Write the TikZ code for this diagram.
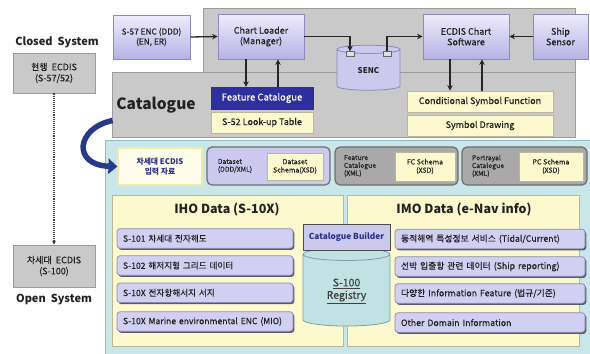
\documentclass[tikz,border=0pt]{standalone}
\usepackage{fontspec}
\setmainfont{Noto Sans CJK KR}[UprightFeatures={FakeBold=0.35}]
\usetikzlibrary{shapes.geometric,arrows.meta,shadows,calc}

\definecolor{txt}{HTML}{222222}
\definecolor{panelfill}{HTML}{C9C9C9}
\definecolor{panelline}{HTML}{9C9C9C}
\definecolor{lavtop}{HTML}{EEECFC}
\definecolor{lavbot}{HTML}{B6B2E6}
\definecolor{lavline}{HTML}{8C89BE}
\definecolor{lavflat}{HTML}{CBC9EE}
\definecolor{fcblue}{HTML}{2E2E9C}
\definecolor{paleyel}{HTML}{FCF9CF}
\definecolor{yelline}{HTML}{B9B69A}
\definecolor{bluepanel}{HTML}{C9E6E9}
\definecolor{bluepanelline}{HTML}{8FBFC4}
\definecolor{grpgray}{HTML}{A9A9A9}
\definecolor{grpline}{HTML}{6E6E6E}
\definecolor{itemfill}{HTML}{D2D0F2}
\definecolor{itemline}{HTML}{8A88B4}
\definecolor{shadowc}{HTML}{5A5A66}
\definecolor{regfill}{HTML}{C0E2E3}
\definecolor{regline}{HTML}{7E9FA1}
\definecolor{darkblue}{HTML}{2A2F8E}
\definecolor{curvblue}{HTML}{273A8A}

\begin{document}
\begin{tikzpicture}[x=1pt,y=-1pt,
  every node/.style={text=txt, align=center, inner sep=1pt},
  panel/.style={draw=panelline, fill=panelfill, line width=0.8pt},
  lavbox/.style={draw=lavline, top color=lavtop, bottom color=lavbot, line width=0.8pt,
    font=\fontsize{9}{10.5}\selectfont},
  yelbox/.style={draw=yelline, fill=paleyel, line width=0.8pt,
    font=\fontsize{9}{10.5}\selectfont},
  sysbox/.style={draw=panelline, fill=panelfill, line width=0.8pt,
    minimum width=82pt, font=\fontsize{9}{11}\selectfont},
  systxt/.style={font=\bfseries\fontsize{11}{12}\selectfont},
  grp/.style={draw=grpline, line width=1.2pt, rounded corners=5pt, minimum height=38pt},
  grptxt/.style={font=\fontsize{6.8}{7.8}\selectfont, align=left},
  subbox/.style={yelbox, font=\fontsize{7}{8.3}\selectfont},
  datapanel/.style={draw=yelline, fill=paleyel, line width=0.9pt},
  heading/.style={font=\bfseries\fontsize{12.5}{13}\selectfont},
  item/.style={draw=itemline, fill=itemfill, line width=0.7pt, rounded corners=3pt,
    drop shadow={shadow xshift=1.3pt, shadow yshift=-1.6pt, fill=shadowc, opacity=1},
    minimum height=19.5pt, inner xsep=6pt, align=left},
  ihoitem/.style={item, text width=164pt, font=\fontsize{8.6}{10}\selectfont},
  imoitem/.style={item, text width=178pt, font=\fontsize{8.8}{10}\selectfont},
  plug/.style={draw=gray!80!black, fill=gray!25, line width=0.5pt,
    minimum width=8pt, minimum height=5pt, inner sep=0pt},
  arr/.style={line width=1.3pt, draw=black!85, -{Stealth[length=5.5pt,width=5.5pt]}},
]
\useasboundingbox (0,0) rectangle (590,354);

% ---------- legacy / next-generation systems on the left ----------
\node[systxt] (closed) at (57,42) {Closed\ \ System};
\node[sysbox, minimum height=40pt] (cur) at (54,73) {현행\ \ ECDIS\\(S-57/52)};
\node[sysbox, minimum height=42pt] (nextgen) at (54,266) {차세대\ \ ECDIS\\(S-100)};
\node[systxt] (open) at (54,300) {Open\ \ System};
\draw[densely dotted, line width=1.1pt, draw=black!75, -{Stealth[length=4pt,width=4pt]}]
  (cur.south) -- (nextgen.north);

% ---------- ECDIS processing chain and catalogue ----------
\node[panel, minimum width=372pt, minimum height=64pt] (chain) at (389,40) {};
\node[panel, minimum width=463pt, minimum height=65pt] (cat) at (343.5,104.5) {};
\node[font=\bfseries\fontsize{15.5}{16}\selectfont] (cattxt) at (156,105) {Catalogue};

\node[lavbox, minimum width=77pt, minimum height=44pt, font=\fontsize{8.3}{10}\selectfont]
  (s57) at (151.5,37) {S-57 ENC (DDD)\\(EN, ER)};
\node[lavbox, minimum width=86pt, minimum height=45pt] (loader) at (261,36.5) {Chart Loader\\(Manager)};
\node[lavbox, minimum width=86pt, minimum height=45pt] (ecdis) at (466,36.5) {ECDIS Chart\\Software};
\node[lavbox, minimum width=55pt, minimum height=45pt] (ship) at (560.5,36.5) {Ship\\Sensor};

\node[cylinder, shape border rotate=90, aspect=0.35, draw=lavline, fill=lavflat,
  line width=0.8pt, minimum width=63pt, minimum height=45pt,
  font=\bfseries\fontsize{8}{9}\selectfont] (senc) at (368.5,70.5) {SENC};
\node[plug] (sencl) at (350,54) {};
\node[plug] (sencr) at (387,54) {};

\node[draw=fcblue, fill=fcblue, minimum width=102pt, minimum height=22pt,
  text=white, font=\fontsize{9.5}{10}\selectfont] (fc) at (262,98) {Feature Catalogue};
\node[yelbox, minimum width=102pt, minimum height=21pt] (s52) at (262,122.5) {S-52 Look-up Table};
\node[yelbox, minimum width=146pt, minimum height=21pt] (csf) at (480,101.5) {Conditional Symbol Function};
\node[yelbox, minimum width=146pt, minimum height=21pt] (sd) at (480,125.5) {Symbol Drawing};

\draw[arr] (s57.east) -- (loader.west);
\draw[arr] (loader.east) -- (sencl.north |- loader.east) -- (sencl.north);
\draw[arr] (sencr.north) -- (sencr.north |- ecdis.west) -- (ecdis.west);
\draw[arr] (ship.west) -- (ecdis.east);
\draw[arr] ([xshift=-15pt]loader.south) -- ([xshift=-15pt]loader.south |- fc.north);
\draw[arr] ([xshift=17pt]loader.south |- fc.north) -- ([xshift=17pt]loader.south);
\draw[arr] ([xshift=-16pt]ecdis.south) -- ([xshift=-16pt]ecdis.south |- csf.north);
\draw[arr] ([xshift=16pt]ecdis.south |- csf.north) -- ([xshift=16pt]ecdis.south);

% ---------- S-100 data environment ----------
\node[draw=bluepanelline, fill=bluepanel, line width=0.9pt,
  minimum width=492pt, minimum height=222pt] (s100) at (351,251) {};

\node[draw=yellow!60!brown!40, fill=paleyel!40, line width=1.2pt,
  minimum width=84pt, minimum height=37pt, text=darkblue,
  font=\bfseries\fontsize{7.8}{9.3}\selectfont] (inbox) at (160,166.5)
  {차세대 ECDIS\\입력 자료};

\draw[line width=5.5pt, draw=curvblue, -{Triangle[length=9pt,width=15pt]}]
  ($(cat.west)+(1,16)$) .. controls (76,128) and (72,165) .. (inbox.west);

\node[grp, fill=lavflat, minimum width=123pt] (dsgrp) at (268.5,166) {};
\node[grptxt] (dstxt) at (235,166) {Dataset\\(DDD/XML)};
\node[subbox, minimum width=56pt, minimum height=27pt] (dssch) at (295,166.5) {Dataset\\Schema(XSD)};

\node[grp, fill=grpgray, minimum width=123pt] (fcgrp) at (396.5,166) {};
\node[grptxt] (fctxt) at (360,166) {Feature\\Catalogue\\(XML)};
\node[subbox, minimum width=60pt, minimum height=29pt] (fcsch) at (425,166.5) {FC Schema\\(XSD)};

\node[grp, fill=grpgray, minimum width=125pt] (pcgrp) at (524.5,166) {};
\node[grptxt] (pctxt) at (488,166) {Portrayal\\Catalogue\\(XML)};
\node[subbox, minimum width=64pt, minimum height=29pt] (pcsch) at (551,166.5) {PC Schema\\(XSD)};

% IHO data products
\node[datapanel, minimum width=231pt, minimum height=151pt] (iho) at (227.5,270.5) {};
\node[heading] (ihohead) at (227,210) {IHO Data (S-10X)};
\node[ihoitem] (i1) at (205,238.5) {S-101 차세대 전자해도};
\node[ihoitem] (i2) at (205,265.5) {S-102 해저지형 그리드 데이터};
\node[ihoitem] (i3) at (205,292.8) {S-10X 전자항해서지 서지};
\node[ihoitem] (i4) at (205,321.5) {S-10X Marine environmental ENC (MIO)};

% IMO e-navigation information
\node[datapanel, minimum width=232pt, minimum height=151pt] (imo) at (463,270.5) {};
\node[heading] (imohead) at (464,210) {IMO Data (e-Nav info)};
\node[imoitem] (m1) at (490,239) {동적해역 특성정보 서비스 (Tidal/Current)};
\node[imoitem] (m2) at (490,266.5) {선박 입출항 관련 데이터 (Ship reporting)};
\node[imoitem] (m3) at (490,293.5) {다양한 Information Feature (법규/기준)};
\node[imoitem] (m4) at (490,322.5) {Other Domain Information};

% registry between the two data domains
\node[cylinder, shape border rotate=90, aspect=0.3, draw=regline, fill=regfill,
  line width=0.8pt, minimum width=87pt, minimum height=78pt, text=black!75,
  font=\fontsize{10.5}{12.5}\selectfont] (reg) at (346.5,291) {\underline{S-100}\\\underline{Registry}};
\node[draw=black!70, fill=lavflat, line width=1pt, minimum width=87pt, minimum height=26pt,
  text=darkblue, font=\bfseries\fontsize{8.3}{9}\selectfont] (cb) at (346.5,237) {Catalogue Builder};
\end{tikzpicture}
\end{document}
